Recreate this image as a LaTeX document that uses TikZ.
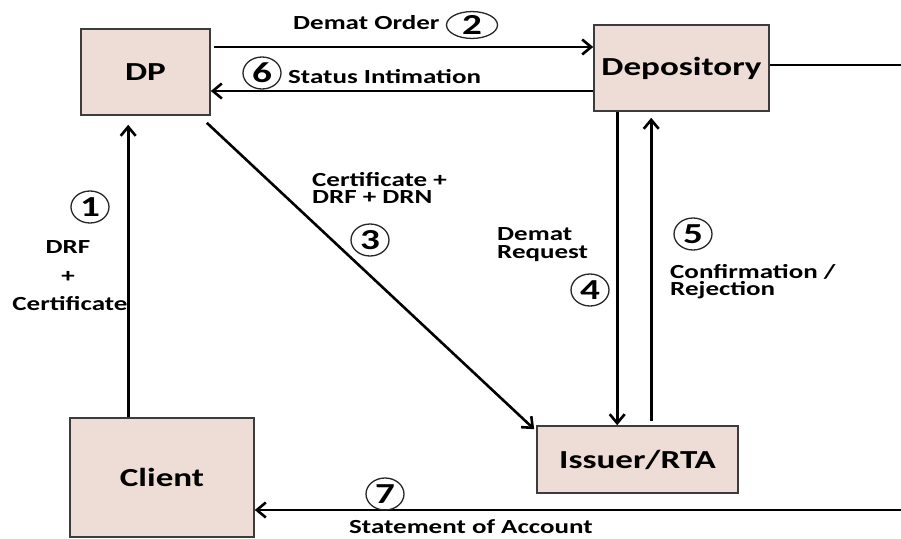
\documentclass[tikz,border=0pt]{standalone}
\usepackage{fontspec}
\setmainfont{Carlito}[FakeStretch=1.35]
\usetikzlibrary{arrows.meta,shapes.geometric}
\definecolor{boxfill}{RGB}{238,221,215}
\definecolor{boxline}{RGB}{60,60,60}
\tikzset{
  ent/.style={draw=boxline,line width=1.6pt,fill=boxfill,inner sep=0pt,
    font=\fontsize{26}{30}\selectfont\bfseries},
  arr/.style={line width=2.6pt,-{Straight Barb[length=9pt,width=15pt]}},
  plain/.style={line width=2.6pt},
  lbl/.style={inner sep=0pt,font=\fontsize{20}{17}\selectfont\bfseries},
  num/.style={ellipse,draw=black!85,line width=1.3pt,inner sep=0pt,
    minimum width=38pt,minimum height=32pt,
    font=\fontsize{29}{29}\selectfont\bfseries}
}
\begin{document}
\begin{tikzpicture}[x=1pt,y=-1pt]
\useasboundingbox[fill=white] (0,0) rectangle (901,538);
% boxes
\node[ent,minimum width=129pt,minimum height=86pt] (dp) at (145.5,72) {DP};
\node[ent,minimum width=175pt,minimum height=86pt] (dep) at (681.5,68) {Depository};
\node[ent,minimum width=201pt,minimum height=67pt] (iss) at (637.5,459.5) {Issuer/RTA};
\node[ent,minimum width=184pt,minimum height=119pt] (cli) at (162,477.5) {Client};
% helper coordinates
\coordinate (y2) at (0,47);
\coordinate (y6) at (0,91);
\coordinate (rt1) at (901,65);
\coordinate (rt2) at (901,510);
% connectors
\draw[arr] ([shift={(59,0)}]cli.north west) -- ([shift={(48,9)}]dp.south west);
\draw[arr,shorten <=3pt] (dp.east |- y2) -- (dep.west |- y2);
\draw[arr] (dep.west |- y6) -- (dp.east |- y6);
\draw[arr] ([shift={(-4,7)}]dp.south east) -- ([shift={(-2,4)}]iss.north west);
\draw[arr] ([shift={(24,0)}]dep.south west) -- ([shift={(81,0)}]iss.north west);
\draw[arr] ([shift={(115,-4)}]iss.north west) -- ([shift={(58,6)}]dep.south west);
\draw[plain] (dep.east |- rt1) -- (rt1);
\draw[arr] (rt2) -- (cli.east |- rt2);
% labels
\node[lbl,anchor=base west] (l2) at (293,29) {Demat Order};
\node[lbl,anchor=base west] (l6) at (288,83) {Status Intimation};
\node[lbl,anchor=base west] (l3a) at (312,186) {Certificate +};
\node[lbl,anchor=base west] (l3b) at (312,203) {DRF + DRN};
\node[lbl,anchor=base west] (l4a) at (497,240) {Demat};
\node[lbl,anchor=base west] (l4b) at (497,258) {Request};
\node[lbl,anchor=base west] (l5a) at (670,278) {Confirmation /};
\node[lbl,anchor=base west] (l5b) at (670,295) {Rejection};
\node[lbl,anchor=base] (l1a) at (68,253) {DRF};
\node[lbl,anchor=base] (l1b) at (68,282) {+};
\node[lbl,anchor=base] (l1c) at (70,310) {Certificate};
\node[lbl,anchor=base west] (l7) at (349,533) {Statement of Account};
% circled numbers
\node[num,minimum width=51pt,minimum height=24pt] (n2) at (472,25) {2};
\node[num] (n6) at (262,73) {6};
\node[num] (n3) at (370,240) {3};
\node[num] (n4) at (590,290) {4};
\node[num] (n5) at (693,234) {5};
\node[num] (n1) at (90,207) {1};
\node[num] (n7) at (385,494) {7};
\end{tikzpicture}
\end{document}
